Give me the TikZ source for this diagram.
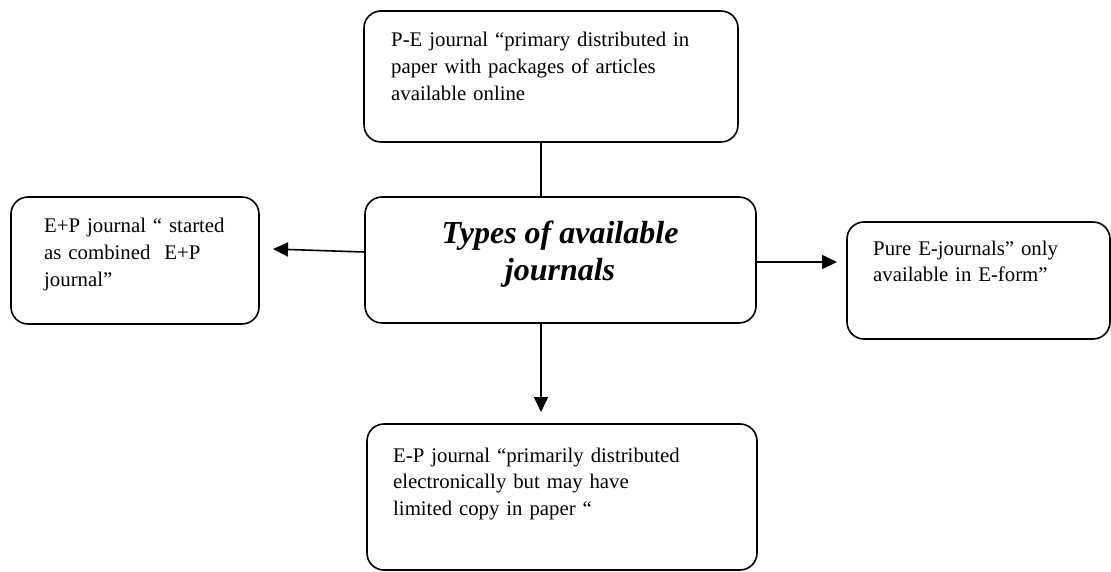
\documentclass[tikz,border=0pt]{standalone}
\usepackage{fontspec}
\setmainfont{Liberation Serif}
\usetikzlibrary{arrows.meta}
\begin{document}
\begin{tikzpicture}[x=1pt,y=-1pt,
  box/.style={draw=black, line width=1.6pt, rounded corners=17pt, rectangle, inner sep=0pt},
  txt/.style={anchor=base west, inner sep=0pt, align=left, font=\fontsize{20.8}{26.8}\selectfont},
  ttl/.style={anchor=base, inner sep=0pt, align=center, font=\fontsize{32}{37}\selectfont\bfseries\itshape},
  link/.style={line width=1.6pt, draw=black},
  arr/.style={link, -{Triangle[length=15pt,width=14pt]}}]
\useasboundingbox (0,0) rectangle (1111,572);
% boxes
\node[box, minimum width=374pt, minimum height=131pt] (top) at (551,76.5) {};
\node[box, minimum width=391pt, minimum height=126pt] (center) at (560.5,260) {};
\node[box, minimum width=248pt, minimum height=127pt] (left) at (135,260.5) {};
\node[box, minimum width=263pt, minimum height=117pt] (right) at (978.5,280.5) {};
\node[box, minimum width=390pt, minimum height=146pt] (bottom) at (562,497) {};
% texts
\node[txt, text width=340pt] (ttop) at (391,47) {P-E journal “primary distributed in\\paper with packages of articles\\available online};
\node[ttl] (tcenter) at (560,280) {Types of available\\journals};
\node[txt, text width=210pt] (tleft) at (44,233) {E+P journal “ started\\as combined~ E+P\\journal”};
\node[txt, text width=230pt] (tright) at (873,255) {Pure E-journals” only\\available in E-form”};
\node[txt, text width=350pt] (tbottom) at (393,462) {E-P journal “primarily distributed\\electronically but may have\\limited copy in paper “};
% connector end points
\coordinate (lt) at (273,249);
\coordinate (rt) at (837,262);
\coordinate (bt) at (541,412);
% connectors
\draw[link] ([xshift=-10pt]top.south) -- ([xshift=-19.5pt]center.north);
\draw[arr] ([yshift=8pt]center.west) -- (lt);
\draw[arr] ([yshift=-2pt]center.east) -- (rt);
\draw[arr] ([xshift=-19.5pt]center.south) -- (bt);
\end{tikzpicture}
\end{document}
